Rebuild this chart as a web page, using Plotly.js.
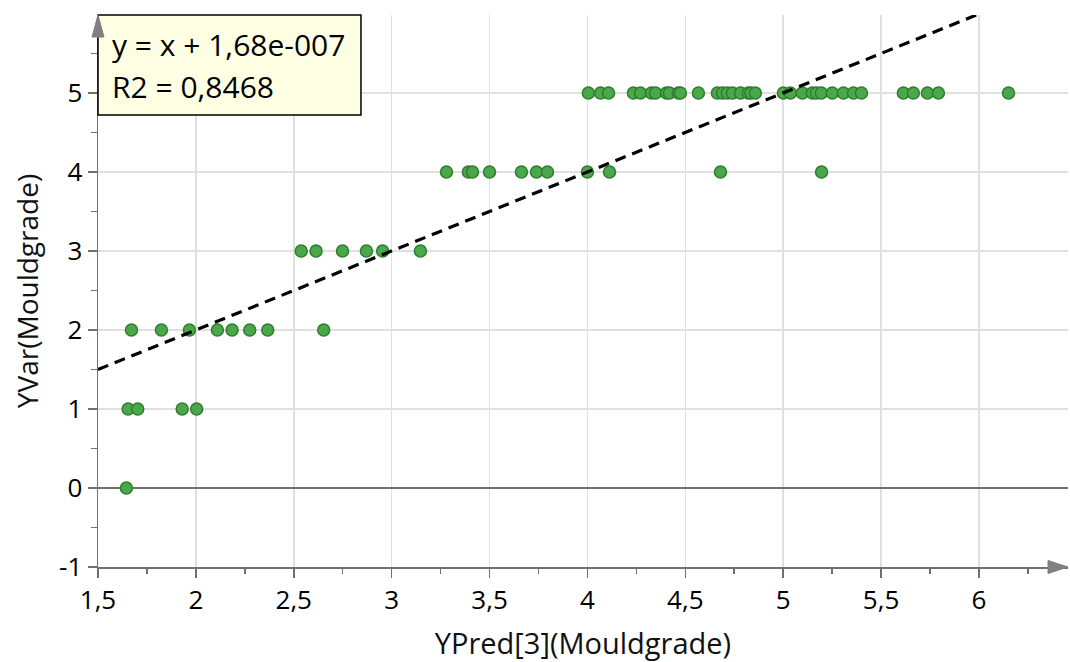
<!DOCTYPE html>
<html>
<head>
<meta charset="utf-8">
<script src="https://cdn.plot.ly/plotly-3.0.1.min.js"></script>
<style>
html,body{margin:0;padding:0;background:#fff;}
#chart{width:1070px;height:662px;}
</style>
</head>
<body>
<div id="chart"></div>
<script>
// ---- data ----
const yPred = [
  // YVar = 5
  4.005, 4.067, 4.108, 4.235, 4.271, 4.327, 4.348, 4.404, 4.419, 4.465, 4.475,
  4.567, 4.664, 4.690, 4.715, 4.741, 4.782, 4.822, 4.835, 4.858,
  5.001, 5.037, 5.098, 5.149, 5.170, 5.195, 5.251, 5.308, 5.359, 5.400,
  5.614, 5.665, 5.737, 5.793, 6.151,
  // YVar = 4
  3.280, 3.392, 3.413, 3.500, 3.663, 3.740, 3.796, 4.000, 4.113, 4.680, 5.196,
  // YVar = 3
  2.538, 2.614, 2.749, 2.871, 2.954, 3.147,
  // YVar = 2
  1.671, 1.824, 1.967, 2.110, 2.185, 2.275, 2.367, 2.653,
  // YVar = 1
  1.654, 1.703, 1.930, 2.004,
  // YVar = 0
  1.645
];
const yVar = [
  5,5,5,5,5,5,5,5,5,5,5,
  5,5,5,5,5,5,5,5,5,
  5,5,5,5,5,5,5,5,5,5,
  5,5,5,5,5,
  4,4,4,4,4,4,4,4,4,4,4,
  3,3,3,3,3,3,
  2,2,2,2,2,2,2,2,
  1,1,1,1,
  0
];
const fitSlope = 1;
const fitIntercept = 1.68e-7;
const fitX = [1.5, 6.02];
const fitY = fitX.map(x => fitSlope * x + fitIntercept);
const yTickVals = [-1, 0, 1, 2, 3, 4, 5];
const yTickText = ['-1', '0', '1', '2', '3', '4', '5'];
const eqText = 'y = x + 1,68e-007';
const r2Text = 'R2 = 0,8468';
const xTitle = 'YPred[3](Mouldgrade)';
const yTitle = 'YVar(Mouldgrade)';

// ---- chart ----
const FONT = '"Open Sans", "Noto Sans", sans-serif';
const AXC = '#707070';

const traces = [
  {
    type: 'scatter', mode: 'markers',
    x: yPred, y: yVar,
    marker: {size: 12, color: '#4aa84a', line: {color: '#2f7d2f', width: 1.5}},
    hoverinfo: 'x+y', cliponaxis: false
  },
  {
    type: 'scatter', mode: 'lines',
    x: fitX, y: fitY,
    line: {color: '#000', width: 3.2, dash: '11px,7px'},
    hoverinfo: 'skip'
  }
];

const layout = {
  width: 1070, height: 662,
  margin: {l: 98, r: 2, t: 15, b: 95},
  paper_bgcolor: '#fff', plot_bgcolor: '#fff',
  showlegend: false,
  separators: ', ',
  font: {family: FONT, size: 26, color: '#000'},
  xaxis: {
    range: [1.5, 6.455], autorange: false,
    dtick: 0.5, tick0: 1.5,
    showgrid: true, gridcolor: '#e0e0e0', gridwidth: 1.5,
    zeroline: false,
    showline: true, linecolor: AXC, linewidth: 1.5,
    ticks: 'outside', ticklen: 9, tickwidth: 1.5, tickcolor: AXC,
    tickfont: {family: FONT, size: 26, color: '#000'},
    minor: {dtick: 0.25, ticks: 'outside', ticklen: 5, tickwidth: 1.5, tickcolor: AXC, showgrid: false},
    title: {text: xTitle, font: {family: FONT, size: 29, color: '#111'}, standoff: 19},
    automargin: false, fixedrange: true
  },
  yaxis: {
    range: [-1, 5.987], autorange: false,
    tickvals: yTickVals, ticktext: yTickText,
    showgrid: true, gridcolor: '#e0e0e0', gridwidth: 1.5,
    zeroline: true, zerolinecolor: AXC, zerolinewidth: 1.5,
    showline: true, linecolor: AXC, linewidth: 1.5,
    ticks: 'outside', ticklen: 9, tickwidth: 1.5, tickcolor: AXC,
    tickfont: {family: FONT, size: 26, color: '#000'},
    minor: {dtick: 0.5, tick0: 0.5, ticks: 'outside', ticklen: 6, tickwidth: 1.5, tickcolor: AXC, showgrid: false},
    title: {text: yTitle, font: {family: FONT, size: 28, color: '#111'}, standoff: 12},
    automargin: false, fixedrange: true
  },
  shapes: [
    // equation box
    {type: 'rect', xref: 'paper', yref: 'paper', x0: 0, x1: 0.2711, y0: 0.8188, y1: 1,
     fillcolor: '#ffffe3', line: {color: '#000', width: 1.5}, layer: 'above'},
    // x axis arrow head
    {type: 'path', xref: 'paper', yref: 'paper', xsizemode: 'pixel', ysizemode: 'pixel',
     xanchor: 1, yanchor: 0, path: 'M-20,-6.5 L0,0 L-20,6.5 Z',
     fillcolor: '#808080', line: {color: '#808080', width: 1}, layer: 'above'},
    // y axis arrow head
    {type: 'path', xref: 'paper', yref: 'paper', xsizemode: 'pixel', ysizemode: 'pixel',
     xanchor: 0, yanchor: 1, path: 'M-6,-22 L0,0 L6,-22 Z',
     fillcolor: '#808080', line: {color: '#808080', width: 1}, layer: 'above'}
  ],
  annotations: [
    {xref: 'paper', yref: 'paper', x: 0.0124, y: 0.9457, xanchor: 'left', yanchor: 'middle',
     text: eqText, showarrow: false, font: {family: FONT, size: 30, color: '#000'}},
    {xref: 'paper', yref: 'paper', x: 0.0124, y: 0.8696, xanchor: 'left', yanchor: 'middle',
     text: r2Text, showarrow: false, font: {family: FONT, size: 30, color: '#000'}}
  ]
};

Plotly.newPlot('chart', traces, layout, {displayModeBar: false, staticPlot: true});
</script>
</body>
</html>
